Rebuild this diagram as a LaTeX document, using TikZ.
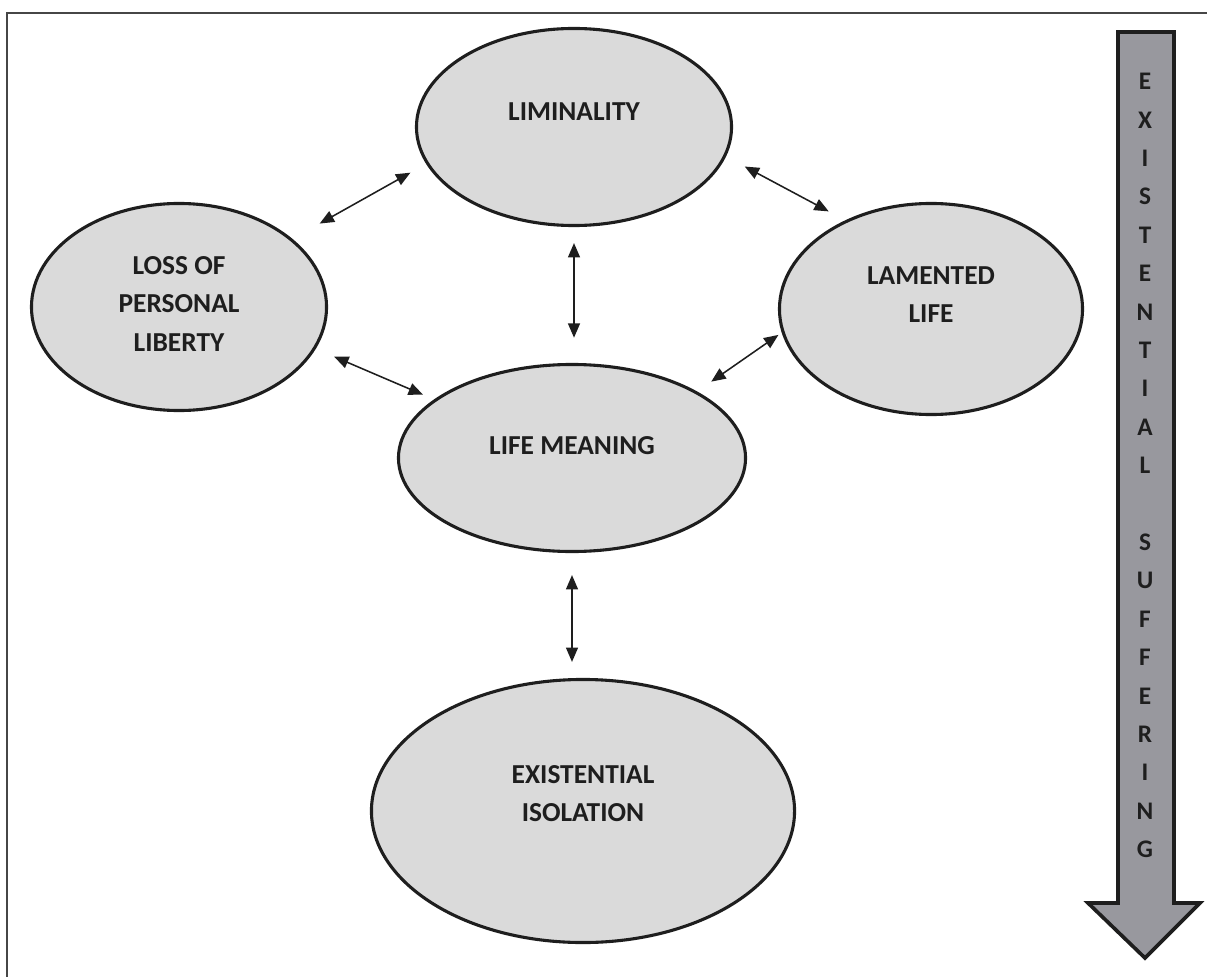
\documentclass[tikz,border=0pt]{standalone}
\usepackage{fontspec}
\setmainfont{Carlito}
\usetikzlibrary{shapes.geometric,arrows.meta}
\definecolor{ink}{RGB}{30,30,30}
\definecolor{ellfill}{RGB}{218,218,218}
\definecolor{shaftgrey}{RGB}{152,152,158}
\definecolor{framegrey}{RGB}{70,70,70}
\newcommand\lifttext[2]{\raisebox{0pt}[\height][\dimexpr\depth+#1\relax]{\begin{tabular}{@{}c@{}}#2\end{tabular}}}

\begin{document}
\begin{tikzpicture}[x=0.025cm, y=-0.025cm,
  every node/.style={font=\fontsize{19.5}{27.3}\selectfont\bfseries, text=ink},
  bubble/.style={ellipse, draw=ink, line width=2.2pt, fill=ellfill, inner sep=2pt},
  link/.style={{Triangle[length=0.36cm,width=0.3cm]}-{Triangle[length=0.36cm,width=0.3cm]}, line width=1.1pt, draw=ink}]
  \useasboundingbox (0,0) rectangle (1207,977);
  \draw[framegrey, line width=1.4pt] (7,977) -- (7,13) -- (1207,13);
  \node[bubble, minimum width=7.875cm, minimum height=4.925cm] (lim) at (574,127) {\lifttext{0.7cm}{LIMINALITY}};
  \node[bubble, minimum width=7.375cm, minimum height=5.175cm] (loss) at (179,307) {\lifttext{0.1cm}{LOSS OF\\PERSONAL\\LIBERTY}};
  \node[bubble, minimum width=8.675cm, minimum height=4.675cm] (lm) at (572,458) {\lifttext{0.55cm}{LIFE MEANING}};
  \node[bubble, minimum width=7.575cm, minimum height=5.275cm] (lam) at (931,309) {\lifttext{0.65cm}{LAMENTED\\LIFE}};
  \node[bubble, minimum width=10.575cm, minimum height=6.575cm] (ei) at (583,811) {\lifttext{0.8cm}{EXISTENTIAL\\ISOLATION}};
  \draw[link, shorten <=0.78cm, shorten >=0.45cm] (loss.31.5) -- (lim.194.7);
  \draw[link, shorten <=0.53cm, shorten >=0.47cm] (lim.349.9) -- (lam.134.1);
  \draw[link, shorten <=0.4cm, shorten >=0.63cm] (lim.south) -- (lim.south |- lm.north);
  \draw[link, shorten <=0.5cm, shorten >=0.3cm] (loss.343.7) -- (lm.157.7);
  \draw[link, shorten <=0.43cm, shorten >=0.1cm] (lm.28.8) -- (lam.189.6);
  \draw[link, shorten <=0.55cm, shorten >=0.4cm] (lm.south) -- (lm.south |- ei.north);
  \draw[line width=2.6pt, draw=ink, fill=shaftgrey, line join=miter] (1118,32) -- (1174,32) -- (1174,903) -- (1200,903) -- (1145,958) -- (1088,903) -- (1118,903) -- cycle;
  \node[font=\fontsize{18}{27.3}\selectfont\bfseries] (band) at (1145,466) {\begin{tabular}{@{}c@{}}E\\X\\I\\S\\T\\E\\N\\T\\I\\A\\L\\ \\S\\U\\F\\F\\E\\R\\I\\N\\G\end{tabular}};
\end{tikzpicture}
\end{document}
